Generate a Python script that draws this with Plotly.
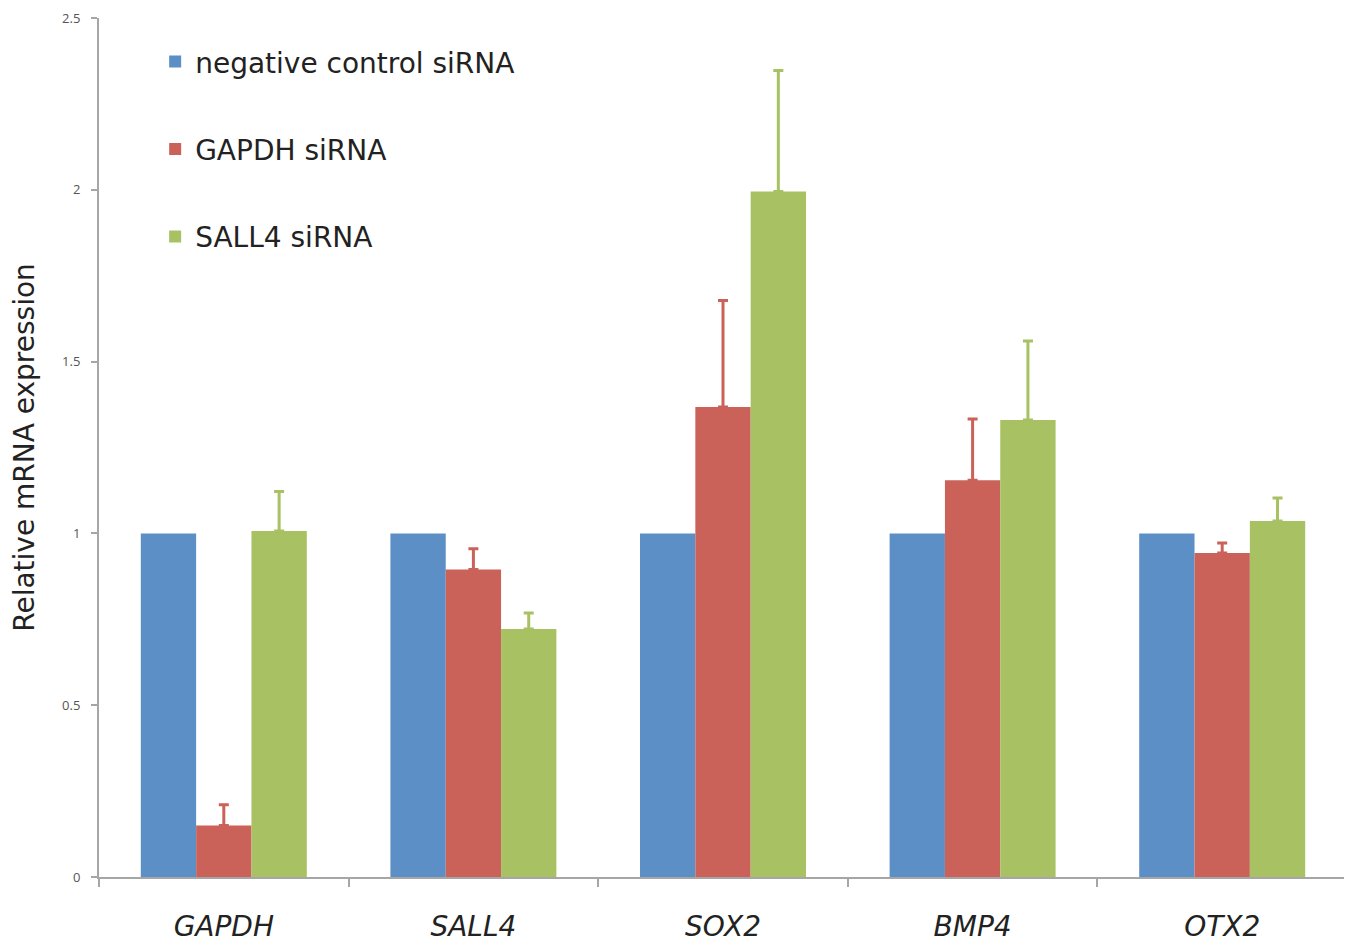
import plotly.graph_objects as go

genes = ["GAPDH", "SALL4", "SOX2", "BMP4", "OTX2"]
gene_labels = ["<i>GAPDH</i>", "<i>SALL4</i>", "<i>SOX2</i>", "<i>BMP4</i>", "<i>OTX2</i>"]

series_names = ["negative control siRNA", "GAPDH siRNA", "SALL4 siRNA"]
neg_ctrl = [1.0, 1.0, 1.0, 1.0, 1.0]
gapdh_si = [0.15, 0.895, 1.368, 1.155, 0.943]
sall4_si = [1.007, 0.722, 1.995, 1.33, 1.036]
neg_err = [None, None, None, None, None]
gapdh_err = [0.06, 0.06, 0.31, 0.178, 0.029]
sall4_err = [0.115, 0.046, 0.352, 0.23, 0.067]

colors = ["#5B8FC6", "#CA625A", "#A7C163"]
values = [neg_ctrl, gapdh_si, sall4_si]
errs = [neg_err, gapdh_err, sall4_err]

BIG = "DejaVu Sans, sans-serif"

fig = go.Figure()
for i, (name, vals, err, col) in enumerate(zip(series_names, values, errs, colors)):
    kw = {}
    if err[0] is not None:
        kw["error_y"] = dict(type="data", array=err, arrayminus=[0] * len(err),
                             symmetric=False, color=col, thickness=3, width=5)
    fig.add_trace(go.Bar(x=genes, y=vals, name=name, marker_color=col,
                         marker_line_width=0, legendgroup=name, **kw))

fig.update_layout(
    width=1352, height=942,
    barmode="group", bargap=0.335, bargroupgap=0,
    plot_bgcolor="white", paper_bgcolor="white",
    margin=dict(l=91, r=13, t=10, b=73, autoexpand=False),
    font=dict(family=BIG, color="#222"),
    showlegend=True,
    legend=dict(x=0.045, y=0.978, xanchor="left", yanchor="top",
                font=dict(size=28, color="#222", family=BIG), bgcolor="rgba(0,0,0,0)",
                traceorder="grouped", tracegroupgap=48,
                itemwidth=30),
    xaxis=dict(tickmode="array", tickvals=genes, ticktext=gene_labels,
               tickson="boundaries", ticks="outside", ticklen=8, tickwidth=2,
               tickcolor="#A6A6A6", showline=True, linecolor="#A6A6A6", linewidth=2,
               tickfont=dict(size=28, color="#222", family=BIG), showgrid=False,
               ticklabelstandoff=23, automargin=False),
    yaxis=dict(range=[0, 2.5], dtick=0.5, ticks="outside", ticklen=6, tickwidth=2,
               tickcolor="#A6A6A6", showline=True, linecolor="#A6A6A6", linewidth=2,
               tickfont=dict(size=13, color="#555", family="Open Sans, sans-serif"),
               showgrid=False, zeroline=False,
               ticklabelstandoff=8, automargin=False,
               title=dict(text="Relative mRNA expression",
                          font=dict(size=28, color="#222", family=BIG),
                          standoff=22)),
)

fig.write_html("out.html")
